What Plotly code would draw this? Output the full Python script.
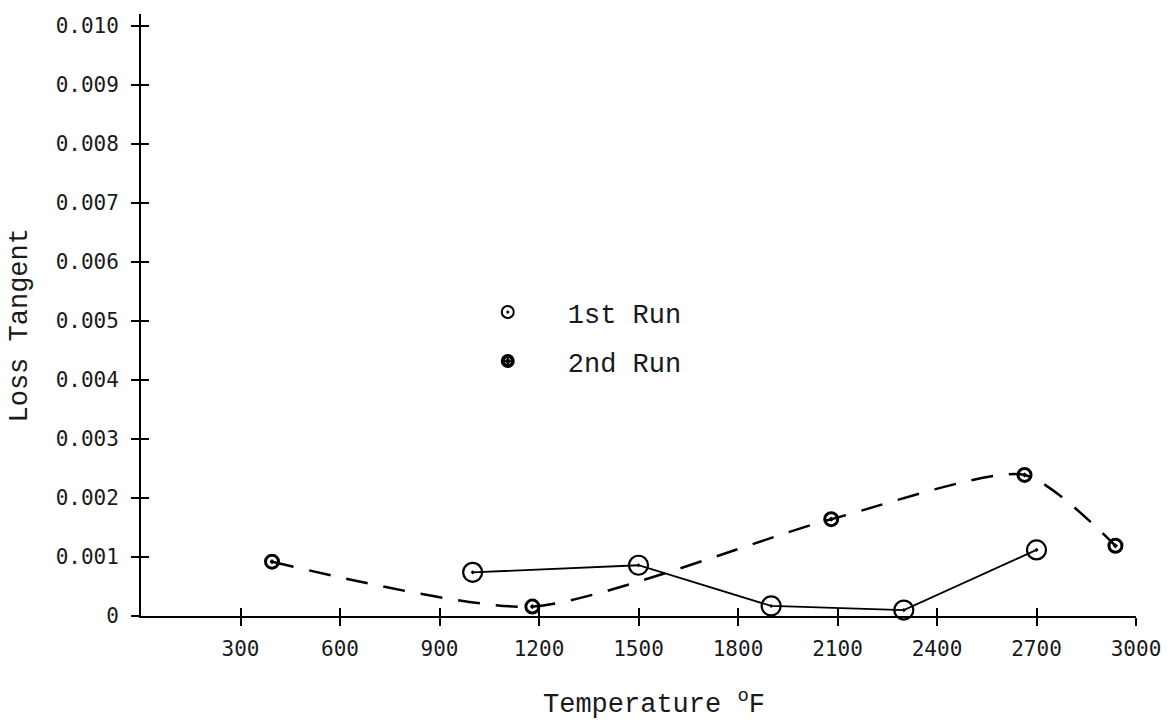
import plotly.graph_objects as go

# Data
run1_temp = [1000, 1500, 1900, 2300, 2700]
run1_loss = [0.00074, 0.00086, 0.00017, 0.00010, 0.00112]

run2_temp = [395, 1180, 2081, 2664, 2938]
run2_loss = [0.00092, 0.00016, 0.00164, 0.00239, 0.00119]

x_ticks = [300, 600, 900, 1200, 1500, 1800, 2100, 2400, 2700, 3000]
y_ticks = [0, 0.001, 0.002, 0.003, 0.004, 0.005, 0.006, 0.007, 0.008, 0.009, 0.010]
y_tick_text = ["0"] + [f"{v:.3f}" for v in y_ticks[1:]]

W, H = 1173, 723
ML, MR, MT, MB = 141, 33, 14, 107
XR = [0, 3000]
YR = [0, 0.0102]
PW, PH = W - ML - MR, H - MT - MB

tick_font = dict(family="DejaVu Sans Mono", size=21, color="#1a1a1a")
title_font = dict(family="Liberation Mono", size=27, color="#1a1a1a")

fig = go.Figure()

fig.add_trace(go.Scatter(
    x=run2_temp, y=run2_loss, mode="lines+markers", showlegend=False,
    line=dict(color="black", width=2.5, dash="22px,16px", shape="spline", smoothing=0.65),
    marker=dict(symbol="circle-open-dot", size=13, color="black", line=dict(width=3, color="black")),
    cliponaxis=False,
))
fig.add_trace(go.Scatter(
    x=run1_temp, y=run1_loss, mode="lines+markers", showlegend=False,
    line=dict(color="black", width=1.8),
    marker=dict(symbol="circle-open-dot", size=19, color="black", line=dict(width=2.2, color="black")),
    cliponaxis=False,
))

# legend-only entries
fig.add_trace(go.Scatter(
    x=[None], y=[None], mode="markers", name="1st Run", legend="legend",
    marker=dict(symbol="circle-open-dot", size=12, color="black", line=dict(width=2, color="black")),
))
fig.add_trace(go.Scatter(
    x=[None], y=[None], mode="markers", name="2nd Run", legend="legend2",
    marker=dict(symbol="circle-open-dot", size=10, color="black", line=dict(width=4, color="black")),
))

axis_common = dict(showgrid=False, zeroline=False, showline=True, linecolor="black", linewidth=1.8,
                   tickcolor="black", tickwidth=2, ticklen=8)

LEG_X = 449
fig.update_layout(
    width=W, height=H,
    margin=dict(l=ML, r=MR, t=MT, b=MB, pad=0),
    paper_bgcolor="white", plot_bgcolor="white",
    xaxis=dict(range=XR, tickvals=x_ticks, ticks="outside", tickfont=tick_font,
               ticklabelstandoff=5, anchor="y", **axis_common),
    yaxis=dict(range=YR, tickvals=y_ticks, ticktext=y_tick_text, ticks="outside",
               tickfont=tick_font, ticklabelstandoff=8, anchor="x", **axis_common),
    xaxis2=dict(range=XR, tickvals=x_ticks, ticks="inside", showticklabels=False,
                overlaying="x", anchor="y", side="bottom", showgrid=False, zeroline=False,
                showline=False, tickcolor="black", tickwidth=2, ticklen=8),
    yaxis2=dict(range=YR, tickvals=y_ticks, ticks="inside", showticklabels=False,
                overlaying="y", anchor="x", side="left", showgrid=False, zeroline=False,
                showline=False, tickcolor="black", tickwidth=2, ticklen=8),
    legend=dict(x=(LEG_X - ML) / PW, y=1 - (288 - MT) / PH,
                xanchor="left", yanchor="top", bgcolor="rgba(0,0,0,0)",
                font=title_font, itemwidth=110),
    legend2=dict(x=(LEG_X - ML) / PW, y=1 - (337 - MT) / PH,
                 xanchor="left", yanchor="top", bgcolor="rgba(0,0,0,0)",
                 font=title_font, itemwidth=110),
    annotations=[
        dict(text="Temperature <sup>o</sup>F", xref="paper", yref="paper",
             x=(656 - ML) / PW, y=-(702 - (H - MB)) / PH,
             showarrow=False, font=title_font, xanchor="center", yanchor="middle"),
        dict(text="Loss Tangent", xref="paper", yref="paper", textangle=-90,
             x=-(ML - 20) / PW, y=1 - (325 - MT) / PH,
             showarrow=False, font=title_font, xanchor="center", yanchor="middle"),
    ],
)

# dummy data on overlay axes so they render
fig.add_trace(go.Scatter(x=[None], y=[None], xaxis="x2", yaxis="y2", showlegend=False, hoverinfo="skip"))

fig.write_html("out.html", config={"displayModeBar": False},
               post_script="document.body.style.margin='0';")
